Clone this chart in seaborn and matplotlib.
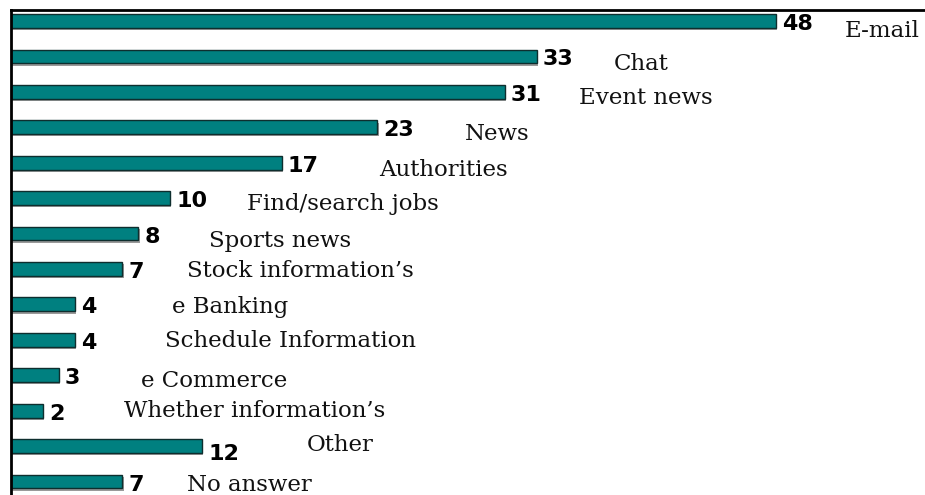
import matplotlib
matplotlib.use("Agg")
import matplotlib.pyplot as plt
import matplotlib.patheffects as pe
from matplotlib.transforms import offset_copy
import seaborn as sns
import pandas as pd

categories = ["E-mail", "Chat", "Event news", "News", "Authorities", "Find/search jobs",
              "Sports news", "Stock information\u2019s", "e Banking", "Schedule Information",
              "e Commerce", "Whether information\u2019s", "Other", "No answer"]
values = [48, 33, 31, 23, 17, 10, 8, 7, 4, 4, 3, 2, 12, 7]

# label placement (pixels from bar end / bar centre)
label_dx = [69, 77, 74, 87, 97, 77, 71, 65, 97, 90, 82, 81, 105, 65]
label_dy = [10, 8, 6, 7, 7, 6, 7, 2, 3, 1, 6, 0, -1, 3]
num_dy = [3, 3, 3, 3, 3, 3, 3, 3, 3, 3, 3, 3, 8, 3]

df = pd.DataFrame({"cat": categories, "val": values})

sns.set_theme(style="white")
W, H = 925, 495
fig = plt.figure(figsize=(W / 100, H / 100), dpi=100)
ax = fig.add_axes([10.5 / W, 0, 1 - 10.5 / W, (H - 10) / H])

sns.barplot(data=df, y="cat", x="val", orient="h", color="#008080", saturation=1,
            width=0.39, edgecolor="#0e2e2e", linewidth=1.0, ax=ax)

for p in ax.patches:
    p.set_path_effects([pe.SimplePatchShadow(offset=(0.8, -1.6), shadow_rgbFace="#9a9a9a", alpha=1),
                        pe.Normal()])

px_per_unit = 15.94
ax.set_xlim(-0.03, (W - 10.5) / px_per_unit)
ax.set_ylim(13.38, -0.31)
ax.set_xticks([])
ax.set_yticks([])
ax.set_xlabel("")
ax.set_ylabel("")
for s in ["right", "bottom"]:
    ax.spines[s].set_visible(False)
for s in ["left", "top"]:
    ax.spines[s].set_visible(True)
    ax.spines[s].set_color("black")
    ax.spines[s].set_linewidth(2.0)

for i, (c, v) in enumerate(zip(categories, values)):
    tn = offset_copy(ax.transData, fig=fig, x=6 * 0.72, y=-num_dy[i] * 0.72, units="points")
    ax.text(v, i, str(v), transform=tn, ha="left", va="center", fontsize=16,
            fontweight="bold", family="DejaVu Sans", color="black")
    tl = offset_copy(ax.transData, fig=fig, x=label_dx[i] * 0.72, y=-label_dy[i] * 0.72, units="points")
    ax.text(v, i, c, transform=tl, ha="left", va="center", fontsize=16.5,
            family="DejaVu Serif", color="#111111", clip_on=False)

fig.savefig("out.png", dpi=100)
